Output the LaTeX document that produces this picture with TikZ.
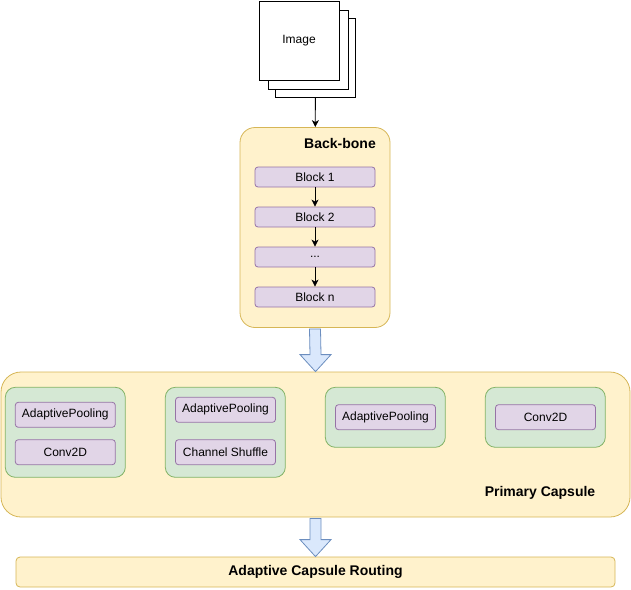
\documentclass[tikz,border=0pt]{standalone}
\usepackage{fontspec}
\setmainfont{Liberation Sans}
\usepackage{xcolor}
\usetikzlibrary{shapes,arrows,arrows.meta,positioning,calc}

\definecolor{capfill}{HTML}{FFF2CC}
\definecolor{capline}{HTML}{D6B656}
\definecolor{blkfill}{HTML}{E1D5E7}
\definecolor{blkline}{HTML}{9673A6}
\definecolor{grpfill}{HTML}{D5E8D4}
\definecolor{grpline}{HTML}{82B366}
\definecolor{arrfill}{HTML}{DAE8FC}
\definecolor{arrline}{HTML}{6C8EBF}

\begin{document}
\begin{tikzpicture}[x=1pt, y=-1pt, >={Stealth[length=7pt,width=7pt,inset=2pt]}, line width=0.8pt,
  font=\fontsize{12}{14}\selectfont,
  sheet/.style={draw, fill=white, minimum width=80pt, minimum height=79pt, inner sep=0pt},
  capsule/.style={draw=capline, fill=capfill, inner sep=0pt},
  block/.style={draw=blkline, fill=blkfill, rounded corners=3pt, minimum width=120pt, minimum height=20pt, inner sep=0pt},
  layer/.style={draw=blkline, fill=blkfill, rounded corners=3pt, minimum width=100pt, minimum height=25pt, inner sep=0pt},
  group/.style={draw=grpline, fill=grpfill, rounded corners=10pt, minimum width=120pt, inner sep=0pt},
  title/.style={font=\fontsize{14}{16}\selectfont\bfseries},
  hollow/.style={draw=arrline, fill=arrfill, line width=0.8pt}]
\useasboundingbox (0,0) rectangle (631,589);

% input image stack
\node[sheet] (img3) at (315.5,57.5) {};
\node[sheet] (img2) at (308.5,50) {};
\node[sheet] (img1) at (299,40.5) {Image};

% back-bone
\node[capsule, rounded corners=15pt, minimum width=150pt, minimum height=200pt] (backbone) at (315,227.5) {};
\node[title] (bbtitle) at (340,143) {Back-bone};
\node[block] (b1) at (315,177) {Block 1};
\node[block] (b2) at (315,217) {Block 2};
\node[block] (b3) at (315,257) {...};
\node[block] (bn) at (315,297) {Block n};
\draw[->] (img3) -- (backbone);
\draw[->] (b1) -- (b2);
\draw[->] (b2) -- (b3);
\draw[->] (b3) -- (bn);

% primary capsule
\node[capsule, rounded corners=20pt, minimum width=629pt, minimum height=145pt] (primary) at (315.5,444.5) {};
\node[title] (pctitle) at (540,493) {Primary Capsule};
\node[group, minimum height=90pt] (g1) at (65.3,432.3) {};
\node[group, minimum height=90pt] (g2) at (225.3,432.3) {};
\node[group, minimum height=60pt] (g3) at (385.3,417.3) {};
\node[group, minimum height=60pt] (g4) at (545.3,417.3) {};
\node[layer] (g1a) at (65.3,414.8) {AdaptivePooling};
\node[layer] (g1b) at (65.3,452.2) {Conv2D};
\node[layer] (g2a) at (225.5,409.8) {AdaptivePooling};
\node[layer] (g2b) at (225.5,452.2) {Channel Shuffle};
\node[layer] (g3a) at (385.5,417.2) {AdaptivePooling};
\node[layer] (g4a) at (545.5,417.2) {Conv2D};

% routing
\node[capsule, rounded corners=4pt, minimum width=599pt, minimum height=30pt, title] (routing) at (315.5,572) {Adaptive Capsule Routing};

% hollow arrows between stages
\draw[hollow] ($(backbone.south)+(-5.5,1)$) -- ($(primary.north)+(-5.5,-17)$) -- ++(-10,0)
  -- (primary.north) -- ++(15.5,-17) -- ++(-10,0) -- ($(backbone.south)+(5.5,1)$) -- cycle;
\draw[hollow] ($(primary.south)+(-5.5,1)$) -- ($(routing.north)+(-5.5,-17)$) -- ++(-10,0)
  -- (routing.north) -- ++(15.5,-17) -- ++(-10,0) -- ($(primary.south)+(5.5,1)$) -- cycle;
\end{tikzpicture}
\end{document}
